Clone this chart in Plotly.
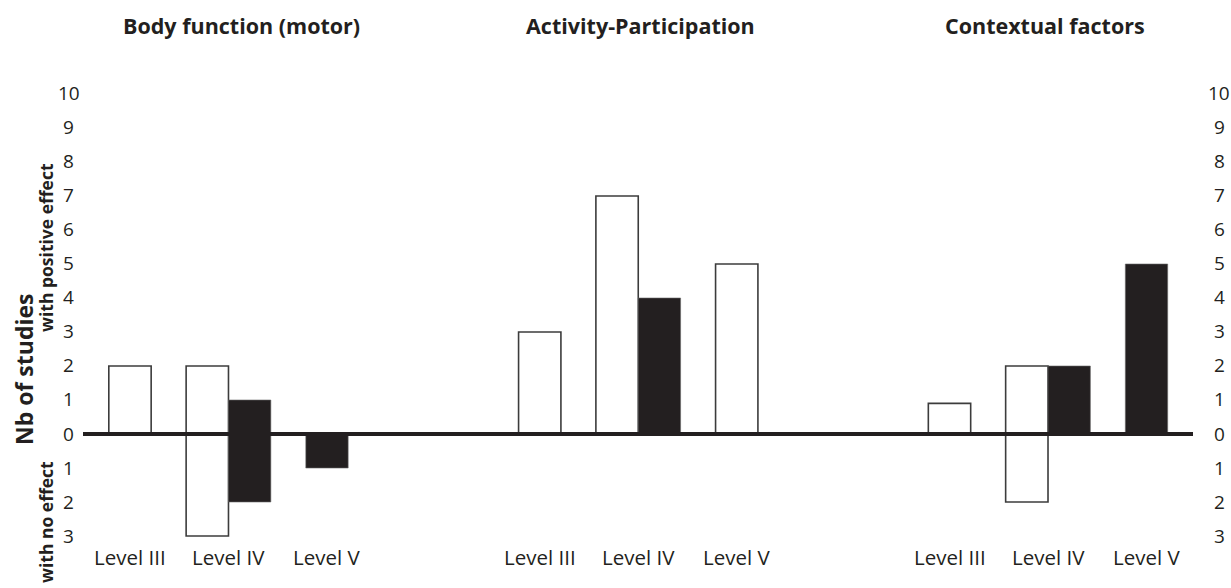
import plotly.graph_objects as go

# ---- data ----
domains = ["Body function (motor)", "Activity-Participation", "Contextual factors"]
levels = ["Level III", "Level IV", "Level V"]
# white bars (first series), positive effect / no effect
white_positive = [[2, 2, 0], [3, 7, 5], [0.9, 2, 0]]
white_no_effect = [[0, 3, 0], [0, 0, 0], [0, 2, 0]]
# black bars (second series)
black_positive = [[0, 1, 0], [0, 4, 0], [0, 2, 5]]
black_no_effect = [[0, 2, 1], [0, 0, 0], [0, 0, 0]]
y_ticks = [10, 9, 8, 7, 6, 5, 4, 3, 2, 1, 0, -1, -2, -3]

# ---- layout parameters ----
GROUP_GAP = 4.16
BAR_W = 0.43
INK = "#231f20"
FONT = "Open Sans"
W, H = 1231, 588
ML, MR, MT, MB = 83, 38, 70, 40

wx, wy, bx, by = [], [], [], []
label_x = []
for g in range(len(domains)):
    for i in range(len(levels)):
        c = g * GROUP_GAP + i
        label_x.append(c)
        wp, wn = white_positive[g][i], white_no_effect[g][i]
        bp, bn = black_positive[g][i], black_no_effect[g][i]
        has_w = wp > 0 or wn > 0
        has_b = bp > 0 or bn > 0
        cw = c - BAR_W / 2 if (has_w and has_b) else c
        cb = c + BAR_W / 2 if (has_w and has_b) else c
        if wp > 0:
            wx.append(cw); wy.append(wp)
        if wn > 0:
            wx.append(cw); wy.append(-wn)
        if bp > 0:
            bx.append(cb); by.append(bp)
        if bn > 0:
            bx.append(cb); by.append(-bn)

fig = go.Figure()
fig.add_trace(go.Bar(x=wx, y=wy, width=[BAR_W] * len(wx),
                     marker=dict(color="white", line=dict(color="#3c3c3c", width=1.6)),
                     showlegend=False, hoverinfo="skip"))
fig.add_trace(go.Bar(x=bx, y=by, width=[BAR_W] * len(bx),
                     marker=dict(color=INK, line=dict(color="#6a6a6a", width=0.6)),
                     showlegend=False, hoverinfo="skip"))

annotations = []
# level labels
for k, x in enumerate(label_x):
    annotations.append(dict(x=x, y=0, xref="x", yref="paper", yshift=-9,
                            text=levels[k % 3], showarrow=False,
                            xanchor="center", yanchor="middle",
                            font=dict(family=FONT, size=20.5, color=INK)))
# domain titles
title_shift = [1.13, 1.02, 0.97]
for g, d in enumerate(domains):
    annotations.append(dict(x=g * GROUP_GAP + title_shift[g], y=1, xref="x", yref="paper",
                            yshift=45, text="<b>%s</b>" % d, showarrow=False,
                            xanchor="center", yanchor="middle",
                            font=dict(family=FONT, size=21.5, color=INK)))
# y tick labels, centred, on both sides
for v in y_ticks:
    for xp, xs in ((0, -14.5), (1, 26)):
        annotations.append(dict(x=xp, y=v, xref="paper", yref="y", xshift=xs,
                                yshift=1.5 if v > 0 else 0,
                                text=str(abs(v)), showarrow=False,
                                xanchor="center", yanchor="middle",
                                font=dict(family=FONT, size=19, color=INK)))
# y axis titles (positions in px from page top, converted to paper coords)
plot_h = H - MT - MB
for txt, xs, ypx, fs in (("Nb of studies", -59, 370, 23),
                         ("with positive effect", -37, 248, 17.5),
                         ("with no effect", -37, 522, 17.5)):
    annotations.append(dict(x=0, y=(H - MB - ypx) / plot_h, xref="paper", yref="paper",
                            xshift=xs, text="<b>%s</b>" % txt, showarrow=False,
                            textangle=-90, xanchor="center", yanchor="middle",
                            font=dict(family=FONT, size=fs, color=INK)))

fig.update_layout(
    width=W, height=H,
    margin=dict(l=ML, r=MR, t=MT, b=MB),
    paper_bgcolor="white", plot_bgcolor="white",
    barmode="overlay",
    xaxis=dict(range=[-0.477, 10.792], showgrid=False, zeroline=False,
               showticklabels=False, ticks="", showline=False),
    yaxis=dict(range=[-3.353, 10.706], showgrid=False, zeroline=False,
               showticklabels=False, ticks="", showline=False),
    annotations=annotations,
    shapes=[dict(type="line", xref="paper", yref="y", x0=0, x1=1, y0=0, y1=0,
                 line=dict(color=INK, width=4), layer="above")],
)

fig.write_html("out.html",
               config={"displayModeBar": False},
               post_script="document.body.style.margin='0';"
                           "document.body.style.overflow='hidden';")
